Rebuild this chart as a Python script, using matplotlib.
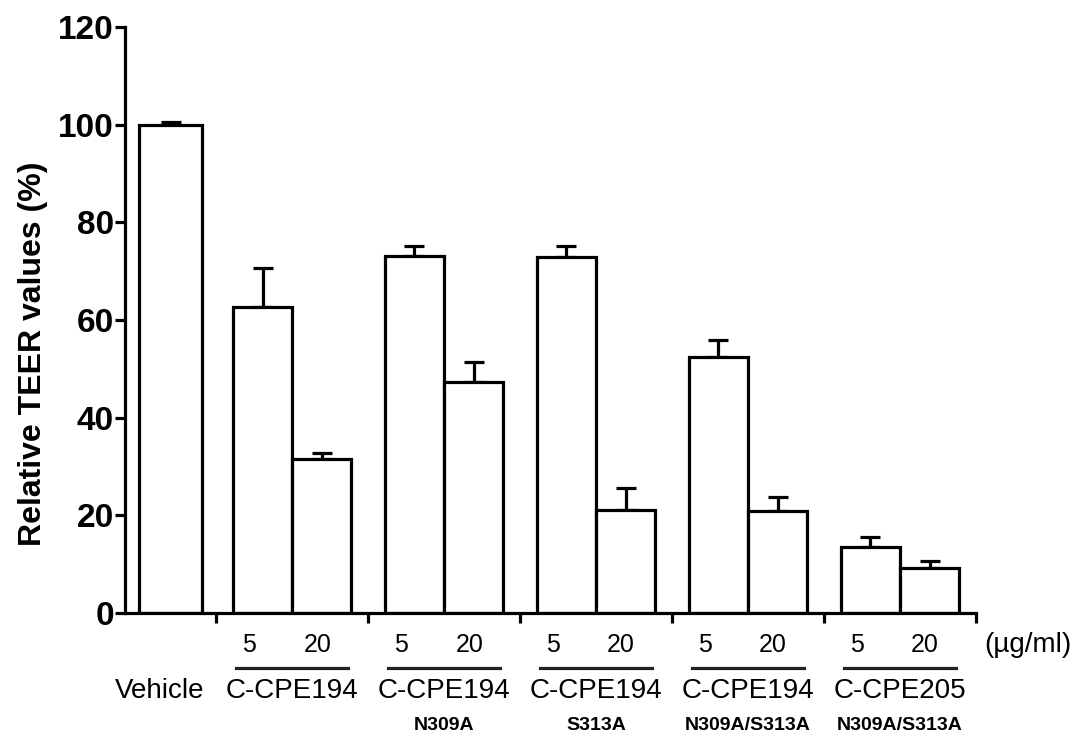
#!/usr/bin/python
# -*- coding: utf-8 -*-
"""
Bar chart of relative TEER values after treatment with C-CPE variants.
"""
import numpy as np
import matplotlib
matplotlib.use('Agg')
import matplotlib.pyplot as plt
from matplotlib.transforms import blended_transform_factory

#### Data
##############################################################################
group_names = ['C-CPE194', 'C-CPE194', 'C-CPE194', 'C-CPE194', 'C-CPE205']
group_subs = ['', 'N309A', 'S313A', 'N309A/S313A', 'N309A/S313A']
doses = ['5', '20']

vehicle_value = 100.0
vehicle_err = 0.5

# values for 5 and 20 ug/ml in each group
values_5 = [62.7, 73.1, 73.0, 52.4, 13.5]
values_20 = [31.5, 47.3, 21.1, 20.9, 9.2]
err_5 = [8.0, 2.1, 2.1, 3.5, 2.1]
err_20 = [1.3, 4.1, 4.5, 2.9, 1.4]

yticks = [0, 20, 40, 60, 80, 100, 120]

#### Plot
##############################################################################
plt.rcParams['font.family'] = ['Liberation Sans', 'DejaVu Sans']

fig = plt.figure(figsize=(10.8, 7.37), dpi=100)
ax = fig.add_axes([125/1080, 1-613/737, (976-125)/1080, (613-27)/737])

lw = 2.3
bar_w = 0.39
vehicle_x = 0.3
group_x = np.arange(len(group_names)) + 1.1

# vehicle bar
ax.bar(vehicle_x, vehicle_value, width=0.41, facecolor='white',
       edgecolor='black', linewidth=lw, zorder=2)
ax.errorbar(vehicle_x, vehicle_value, yerr=[[0], [vehicle_err]], fmt='none',
            ecolor='black', elinewidth=lw, capsize=7.5, capthick=lw, zorder=1)

# treatment bars
for xs, vals, errs in [(group_x - bar_w/2, values_5, err_5),
                       (group_x + bar_w/2, values_20, err_20)]:
    ax.bar(xs, vals, width=bar_w, facecolor='white', edgecolor='black',
           linewidth=lw, zorder=2)
    ax.errorbar(xs, vals, yerr=[np.zeros(len(errs)), errs], fmt='none',
                ecolor='black', elinewidth=lw, capsize=7.5, capthick=lw,
                zorder=1)

# axes styling
ax.set_xlim(0, 5.6)
ax.set_ylim(0, 120)
ax.spines['top'].set_visible(False)
ax.spines['right'].set_visible(False)
ax.spines['left'].set_linewidth(lw)
ax.spines['bottom'].set_linewidth(lw)

ax.set_yticks(yticks)
ax.set_yticklabels([str(t) for t in yticks], fontsize=24, fontweight='bold')
ax.tick_params(axis='y', length=7, width=lw, pad=1)

ax.set_xticks(np.arange(0.6, 5.61, 1.0))
ax.set_xticklabels([])
ax.tick_params(axis='x', length=7, width=lw)

fig.text(33/1080, 1-354/737, 'Relative TEER values (%)', rotation=90,
         ha='center', va='center', fontsize=23, fontweight='bold')

# labels below the axis
trans = blended_transform_factory(ax.transData, fig.transFigure)
y_dose = 1 - 645/737
y_line = 1 - 668/737
y_name = 1 - 691/737
y_sub = 1 - 725/737

ax.text(vehicle_x - 0.07, y_name, 'Vehicle', transform=trans, ha='center',
        va='center', fontsize=20)
for gx, name, sub in zip(group_x, group_names, group_subs):
    ax.text(gx - bar_w/2 - 0.09, y_dose, doses[0], transform=trans,
            ha='center', va='center', fontsize=18)
    ax.text(gx + bar_w/2 - 0.03, y_dose, doses[1], transform=trans,
            ha='center', va='center', fontsize=18)
    ax.plot([gx - 0.37, gx + 0.37], [y_line, y_line], transform=trans,
            color='#222222', linewidth=2.3, clip_on=False)
    ax.text(gx, y_name, name, transform=trans, ha='center', va='center',
            fontsize=20)
    if sub:
        ax.text(gx, y_sub, sub, transform=trans, ha='center', va='center',
                fontsize=14, fontweight='bold')

fig.text(1028/1080, y_dose, '(\u00b5g/ml)', ha='center', va='center',
         fontsize=20)

plt.savefig('out.png', dpi=100)
